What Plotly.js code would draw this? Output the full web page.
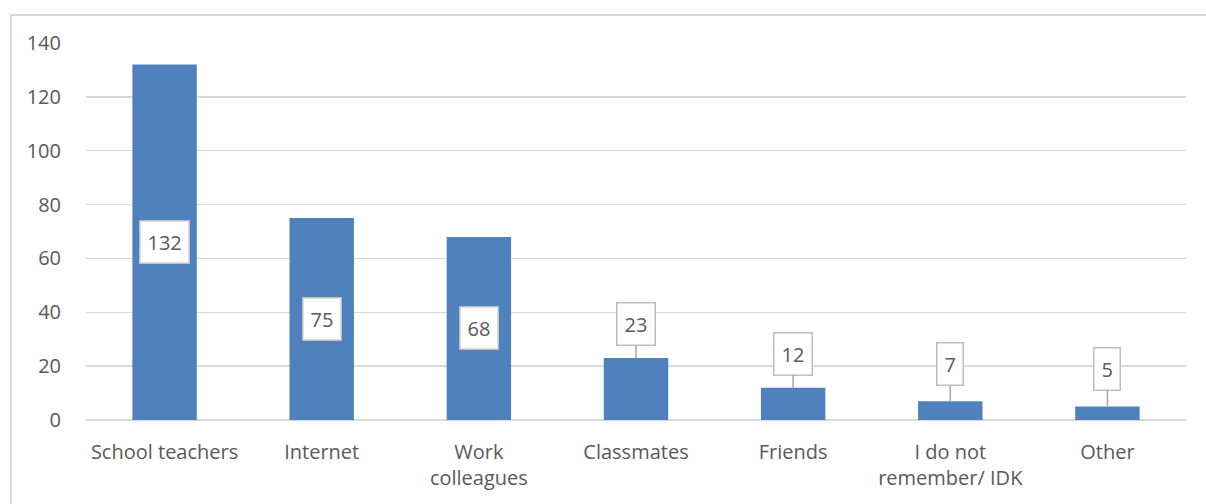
<!DOCTYPE html>
<html>
<head>
<meta charset="utf-8">
<script src="https://cdn.plot.ly/plotly-3.0.1.min.js"></script>
<style>
  html, body { margin: 0; padding: 0; background: #ffffff; }
  #wrap { position: relative; width: 1206px; height: 504px; overflow: hidden; }
  #chart { position: absolute; left: 0; top: 0; width: 1206px; height: 504px; }
  #frame { position: absolute; left: 10px; top: 14px; width: 1300px; height: 600px;
           border-left: 2px solid #d9d9d9; border-top: 2px solid #d9d9d9; pointer-events: none; }
</style>
</head>
<body>
<div id="wrap">
  <div id="chart"></div>
  <div id="frame"></div>
</div>
<script>
const categories = ["School teachers", "Internet", "Work<br>colleagues", "Classmates", "Friends", "I do not<br>remember/ IDK", "Other"];
const values = [132, 75, 68, 23, 12, 7, 5];
const yTicks = [0, 20, 40, 60, 80, 100, 120, 140];

// label placement style: inside (centered) for big bars, lifted with leader line for small ones
const insideThreshold = 50;
const labelLift = [0, 0, 0, -34, -34, -37, -38];

const fontFam = "'Open Sans', 'Liberation Sans', sans-serif";
const textColor = "#595959";

const annotations = categories.map((c, i) => {
  const v = values[i];
  const base = {
    x: c, xref: 'x', yref: 'y',
    text: String(v),
    font: { family: fontFam, size: 20, color: textColor },
    bgcolor: '#ffffff',
    bordercolor: '#bfbfbf',
    borderwidth: 1.5,
    borderpad: 7
  };
  if (v >= insideThreshold) {
    return Object.assign(base, { y: v / 2, showarrow: false });
  }
  return Object.assign(base, {
    y: v, showarrow: true, arrowhead: 0, arrowwidth: 1.5, arrowcolor: '#a6a6a6',
    ax: 0, ay: labelLift[i], standoff: 0
  });
});

const trace = {
  type: 'bar',
  x: categories,
  y: values,
  marker: { color: '#4f81bd' },
  hoverinfo: 'none'
};

const layout = {
  width: 1206, height: 504,
  margin: { l: 86, r: 20, t: 43, b: 84 },
  paper_bgcolor: '#ffffff', plot_bgcolor: '#ffffff',
  bargap: 0.59,
  showlegend: false,
  font: { family: fontFam, size: 20, color: textColor },
  xaxis: {
    type: 'category',
    showgrid: false, zeroline: false, showline: false,
    ticks: 'outside', ticklen: 14, tickcolor: 'rgba(0,0,0,0)',
    tickfont: { family: fontFam, size: 20, color: textColor }
  },
  yaxis: {
    range: [0, 140],
    tickvals: yTicks,
    ticktext: yTicks.map(String),
    showgrid: true, gridcolor: '#d9d9d9', gridwidth: 1.5,
    zeroline: true, zerolinecolor: '#d9d9d9', zerolinewidth: 1.5,
    showline: false, ticks: 'outside', ticklen: 20, tickcolor: 'rgba(0,0,0,0)',
    tickfont: { family: fontFam, size: 20, color: textColor }
  },
  annotations: annotations
};

Plotly.newPlot('chart', [trace], layout, { staticPlot: true, displayModeBar: false });
</script>
</body>
</html>
